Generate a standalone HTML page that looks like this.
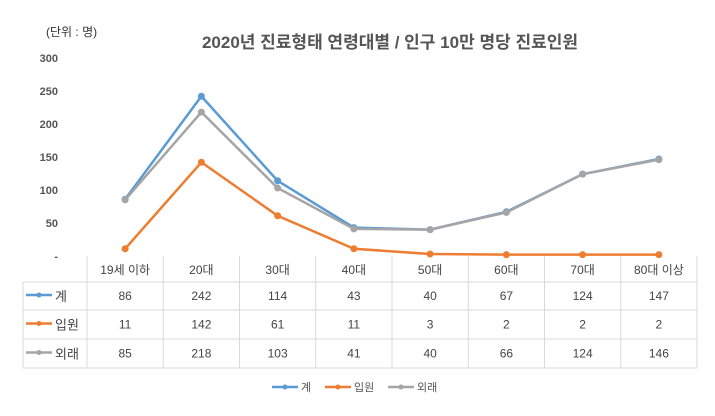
<!DOCTYPE html>
<html><head><meta charset="utf-8"><style>
body{margin:0;background:#fff;}
svg text{font-family:"Liberation Sans","Noto Sans CJK KR",sans-serif;}
</style></head><body>
<svg id="c" width="715" height="411" xmlns="http://www.w3.org/2000/svg">
<text x="46" y="36" font-size="12" fill="#333">(단위 : 명)</text>
<text x="390" y="48" font-size="17" font-weight="bold" fill="#555" text-anchor="middle">2020년 진료형태 연령대별 / 인구 10만 명당 진료인원</text>
<g id="yaxis"></g>
<g id="table"></g>
<g id="lines"></g>
<g id="legend"></g>
</svg>
<script>
const categories=["19세 이하","20대","30대","40대","50대","60대","70대","80대 이상"];
const seriesNames=["계","입원","외래"];
const totalVals=[86,242,114,43,40,67,124,147];
const inpatientVals=[11,142,61,11,3,2,2,2];
const outpatientVals=[85,218,103,41,40,66,124,146];
const yTicks=[0,50,100,150,200,250,300];
const colors=["#5B9BD5","#ED7D31","#A5A5A5"];
const series=[totalVals,inpatientVals,outpatientVals];
const NS="http://www.w3.org/2000/svg";
const X0=87,X1=697,Y0=256,Y300=58;
const cw=(X1-X0)/categories.length;
const x=i=>X0+cw*(i+0.5);
const y=v=>Y0-(v/300)*(Y0-Y300);
function mk(t,a,p){const e=document.createElementNS(NS,t);for(const k in a)e.setAttribute(k,a[k]);p.appendChild(e);return e;}
const ya=document.getElementById('yaxis');
yTicks.forEach(v=>{const t=mk('text',{x:58,y:y(v)+4,'font-size':11,'font-weight':'bold',fill:'#555','text-anchor':'end'},ya);


t.textContent=v===0?'-':v;});
const tb=document.getElementById('table');
const rows=[256,282,310,339,368];
const gs={stroke:'#D9D9D9','stroke-width':1};
mk('line',Object.assign({x1:X0,y1:256,x2:X0,y2:368},gs),tb);
categories.forEach((c,i)=>{mk('line',Object.assign({x1:X0+cw*(i+1),y1:256,x2:X0+cw*(i+1),y2:368},gs),tb);
const t=mk('text',{x:x(i),y:274,'font-size':12,fill:'#444','text-anchor':'middle'},tb);


t.textContent=c;});
[282,310,339,368].forEach(r=>mk('line',Object.assign({x1:23,y1:r,x2:X1,y2:r},gs),tb));
mk('line',Object.assign({x1:23,y1:282,x2:23,y2:368},gs),tb);
series.forEach((s,si)=>{const cy=(rows[si+1]+rows[si+2])/2;
mk('line',{x1:26,y1:cy-1,x2:52,y2:cy-1,stroke:colors[si],'stroke-width':2.5},tb);
mk('circle',{cx:39,cy:cy-1,r:2.5,fill:colors[si]},tb);
const lt=mk('text',{x:55,y:cy+5,'font-size':13,fill:'#444'},tb);


lt.textContent=seriesNames[si];
s.forEach((v,i)=>{const t=mk('text',{x:x(i),y:cy+4,'font-size':12,fill:'#444','text-anchor':'middle'},tb);


t.textContent=v;});});
const lg=document.getElementById('lines');
[0,1,2].forEach(si=>{const s=series[si];
const pl=mk('polyline',{points:s.map((v,i)=>x(i)+','+y(v)).join(' '),fill:'none',stroke:colors[si],'stroke-width':2.5},lg);


s.forEach((v,i)=>{const c=mk('circle',{cx:x(i),cy:y(v),r:3.5,fill:colors[si]},lg);

});});
const le=document.getElementById('legend');
const lx=[272,325,388];
seriesNames.forEach((n,si)=>{const g=mk('g',{},le);


mk('line',{x1:lx[si],y1:387,x2:lx[si]+26,y2:387,stroke:colors[si],'stroke-width':2.5},g);
mk('circle',{cx:lx[si]+13,cy:387,r:2.5,fill:colors[si]},g);
const t=mk('text',{x:lx[si]+29,y:391,'font-size':11,fill:'#555'},g);t.textContent=n;});
</script>
</body></html>
